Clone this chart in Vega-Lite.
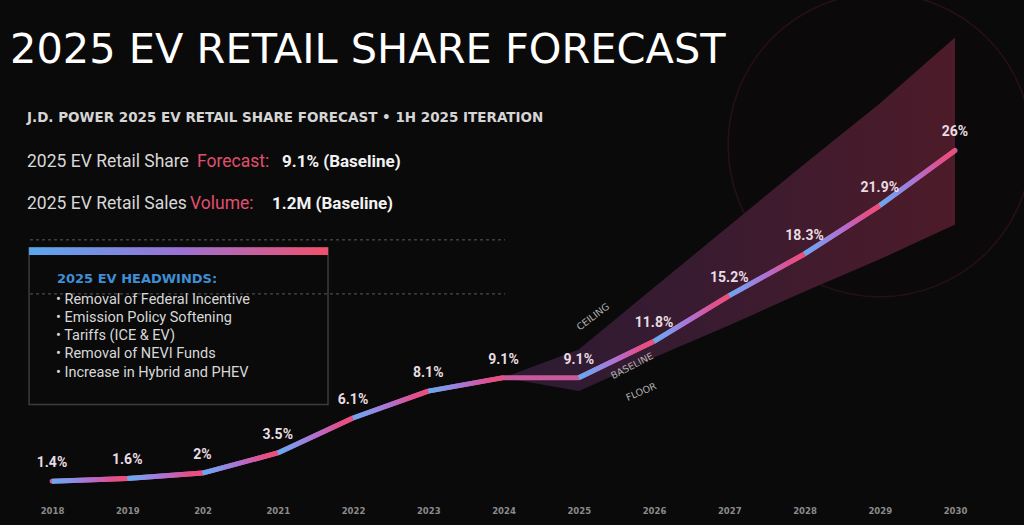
{
  "$schema": "https://vega.github.io/schema/vega-lite/v6.json",
  "width": 903,
  "height": 484,
  "autosize": {"type": "none"},
  "padding": {"left": 52, "top": 16, "right": 69, "bottom": 25},
  "background": "#0a0a0a",
  "config": {"view": {"stroke": null}},
  "datasets": {
    "ev": [
      {"year": 2018, "value": 1.4, "label": "1.4%"},
      {"year": 2019, "value": 1.6, "label": "1.6%"},
      {"year": 2020, "value": 2.0, "label": "2%"},
      {"year": 2021, "value": 3.5, "label": "3.5%"},
      {"year": 2022, "value": 6.1, "label": "6.1%"},
      {"year": 2023, "value": 8.1, "label": "8.1%"},
      {"year": 2024, "value": 9.1, "label": "9.1%"},
      {"year": 2025, "value": 9.1, "label": "9.1%"},
      {"year": 2026, "value": 11.8, "label": "11.8%"},
      {"year": 2027, "value": 15.2, "label": "15.2%"},
      {"year": 2028, "value": 18.3, "label": "18.3%"},
      {"year": 2029, "value": 21.9, "label": "21.9%"},
      {"year": 2030, "value": 26.0, "label": "26%"}
    ],
    "cone": [
      {"year": 2024, "floor": 9.1, "ceiling": 9.1},
      {"year": 2025, "floor": 8.1, "ceiling": 11.2},
      {"year": 2026, "floor": 10.6, "ceiling": 15.8},
      {"year": 2027, "floor": 13.0, "ceiling": 20.4},
      {"year": 2028, "floor": 15.5, "ceiling": 25.0},
      {"year": 2029, "floor": 17.9, "ceiling": 29.5},
      {"year": 2030, "floor": 20.5, "ceiling": 34.4}
    ]
  },
  "encoding": {
    "x": {
      "field": "year",
      "type": "quantitative",
      "scale": {"domain": [2018, 2030], "nice": false, "zero": false},
      "axis": {
        "title": null,
        "values": [2018, 2019, 2020, 2021, 2022, 2023, 2024, 2025, 2026, 2027, 2028, 2029, 2030],
        "labelExpr": "datum.value === 2020 ? '202' : '' + datum.value",
        "labelFlush": false,
        "labelOverlap": false,
        "domain": false,
        "ticks": false,
        "grid": false,
        "labelColor": "#8a8a8a",
        "labelFont": "DejaVu Sans",
        "labelFontWeight": "bold",
        "labelFontSize": 8.5,
        "labelPadding": 6
      }
    },
    "y": {
      "field": "value",
      "type": "quantitative",
      "scale": {"domain": [0, 36], "nice": false, "zero": false},
      "axis": null
    }
  },
  "layer": [
    {
      "data": {"values": [{"year": 2029.0, "value": 26.4}]},
      "mark": {"type": "point", "shape": "circle", "size": 92000, "filled": true, "color": "#0c090b", "stroke": "#4a1a26", "strokeWidth": 1.5, "strokeOpacity": 0.45, "opacity": 1}
    },
    {
      "data": {"name": "cone"},
      "mark": {
        "type": "area",
        "color": {"gradient": "linear", "x1": 0, "x2": 1, "y1": 0, "y2": 0,
          "stops": [
            {"offset": 0, "color": "#2c1b33"},
            {"offset": 0.5, "color": "#3b1b30"},
            {"offset": 1, "color": "#4d1b29"}
          ]}
      },
      "encoding": {
        "y": {"field": "floor", "type": "quantitative"},
        "y2": {"field": "ceiling"}
      }
    },
    {
      "data": {"values": [{"year": 2017.695, "year2": 2021.668, "value": 18.75, "value2": 7.1}]},
      "mark": {"type": "rect", "fill": "#0a0a0a", "stroke": "#3c3c3c", "strokeWidth": 1.5},
      "encoding": {"x2": {"field": "year2"}, "y2": {"field": "value2"}}
    },
    {
      "data": {"values": [{"year": 2017.695, "year2": 2021.668, "value": 18.8, "value2": 18.22}]},
      "mark": {
        "type": "rect",
        "color": {"gradient": "linear", "x1": 0, "x2": 1, "y1": 0, "y2": 0,
          "stops": [
            {"offset": 0, "color": "#59a8ee"},
            {"offset": 0.5, "color": "#9a72d6"},
            {"offset": 1, "color": "#f2506c"}
          ]}
      },
      "encoding": {"x2": {"field": "year2"}, "y2": {"field": "value2"}}
    },
    {
      "data": {"values": [
        {"year": 2017.708, "year2": 2024.02, "value": 19.35},
        {"year": 2017.708, "year2": 2024.02, "value": 15.33}
      ]},
      "mark": {"type": "rule", "color": "#5a5a5a", "strokeWidth": 1, "strokeDash": [3, 3]},
      "encoding": {"x2": {"field": "year2"}}
    },
    {
      "data": {"name": "ev"},
      "mark": {"type": "line", "color": "#c85a9c", "strokeWidth": 5, "strokeJoin": "round", "strokeCap": "round"}
    },
    {
      "data": {"name": "ev"},
      "transform": [
        {"window": [{"op": "lead", "field": "year", "as": "year2"}, {"op": "lead", "field": "value", "as": "value2"}],
         "sort": [{"field": "year", "order": "ascending"}]},
        {"filter": "datum.year2 != null"}
      ],
      "mark": {
        "type": "rule",
        "strokeWidth": 5,
        "strokeCap": "butt",
        "color": {"gradient": "linear", "x1": 0, "x2": 1, "y1": 0, "y2": 0,
          "stops": [
            {"offset": 0, "color": "#67a9f0"},
            {"offset": 0.2, "color": "#7f98ea"},
            {"offset": 0.5, "color": "#b06fd2"},
            {"offset": 0.8, "color": "#e0508c"},
            {"offset": 1, "color": "#ee4f78"}
          ]}
      },
      "encoding": {
        "x2": {"field": "year2"},
        "y2": {"field": "value2"}
      }
    },
    {
      "data": {"name": "ev"},
      "mark": {"type": "text", "font": "Roboto", "fontWeight": "bold", "fontSize": 14, "color": "#e8dde2", "baseline": "middle", "align": "center", "dy": -18},
      "encoding": {"text": {"field": "label"}}
    },
    {
      "data": {"values": [{"year": 2025.19, "value": 13.62, "text": "CEILING"}]},
      "mark": {"type": "text", "font": "DejaVu Sans", "fontSize": 9.5, "color": "#b0b0b0", "angle": 323, "baseline": "middle", "align": "center"},
      "encoding": {"text": {"field": "text"}}
    },
    {
      "data": {"values": [{"year": 2025.71, "value": 9.97, "text": "BASELINE"}]},
      "mark": {"type": "text", "font": "DejaVu Sans", "fontSize": 9.5, "color": "#b0b0b0", "angle": 333, "baseline": "middle", "align": "center"},
      "encoding": {"text": {"field": "text"}}
    },
    {
      "data": {"values": [{"year": 2025.83, "value": 8.04, "text": "FLOOR"}]},
      "mark": {"type": "text", "font": "DejaVu Sans", "fontSize": 9.5, "color": "#b0b0b0", "angle": 337, "baseline": "middle", "align": "center"},
      "encoding": {"text": {"field": "text"}}
    },
    {
      "data": {"values": [{"year": 2017.442, "value": 32.51, "text": "2025 EV RETAIL SHARE FORECAST"}]},
      "mark": {"type": "text", "font": "DejaVu Sans", "fontSize": 41.5, "color": "#ffffff", "align": "left", "baseline": "alphabetic"},
      "encoding": {"text": {"field": "text"}}
    },
    {
      "data": {"values": [{"year": 2017.668, "value": 28.09, "text": "J.D. POWER 2025 EV RETAIL SHARE FORECAST • 1H 2025 ITERATION"}]},
      "mark": {"type": "text", "font": "DejaVu Sans", "fontWeight": "bold", "fontSize": 13.5, "color": "#d5d5d5", "align": "left", "baseline": "alphabetic"},
      "encoding": {"text": {"field": "text"}}
    },
    {
      "data": {"values": [
        {"year": 2017.668, "value": 24.78, "text": "2025 EV Retail Share"},
        {"year": 2017.668, "value": 21.65, "text": "2025 EV Retail Sales"}
      ]},
      "mark": {"type": "text", "font": "Roboto", "fontSize": 17.5, "color": "#d8d8d8", "align": "left", "baseline": "alphabetic"},
      "encoding": {"text": {"field": "text"}}
    },
    {
      "data": {"values": [
        {"year": 2019.927, "value": 24.78, "text": "Forecast:"},
        {"year": 2019.834, "value": 21.65, "text": "Volume:"}
      ]},
      "mark": {"type": "text", "font": "Roboto", "fontSize": 17.5, "color": "#e0506e", "align": "left", "baseline": "alphabetic"},
      "encoding": {"text": {"field": "text"}}
    },
    {
      "data": {"values": [
        {"year": 2021.056, "value": 24.78, "text": "9.1% (Baseline)"},
        {"year": 2020.924, "value": 21.65, "text": "1.2M (Baseline)"}
      ]},
      "mark": {"type": "text", "font": "Roboto", "fontWeight": "bold", "fontSize": 17, "color": "#f2f2f2", "align": "left", "baseline": "alphabetic"},
      "encoding": {"text": {"field": "text"}}
    },
    {
      "data": {"values": [{"year": 2018.066, "value": 16.15, "text": "2025 EV HEADWINDS:"}]},
      "mark": {"type": "text", "font": "DejaVu Sans", "fontWeight": "bold", "fontSize": 13, "color": "#3f8fd6", "align": "left", "baseline": "alphabetic"},
      "encoding": {"text": {"field": "text"}}
    },
    {
      "data": {"values": [
        {"year": 2018.053, "value": 14.58, "text": "•  Removal of Federal Incentive"},
        {"year": 2018.053, "value": 13.24, "text": "•  Emission Policy Softening"},
        {"year": 2018.053, "value": 11.9, "text": "•  Tariffs (ICE & EV)"},
        {"year": 2018.053, "value": 10.57, "text": "•  Removal of NEVI Funds"},
        {"year": 2018.053, "value": 9.15, "text": "•  Increase in Hybrid and PHEV"}
      ]},
      "mark": {"type": "text", "font": "Roboto", "fontSize": 14.5, "color": "#d8d8d8", "align": "left", "baseline": "alphabetic"},
      "encoding": {"text": {"field": "text"}}
    }
  ]
}
